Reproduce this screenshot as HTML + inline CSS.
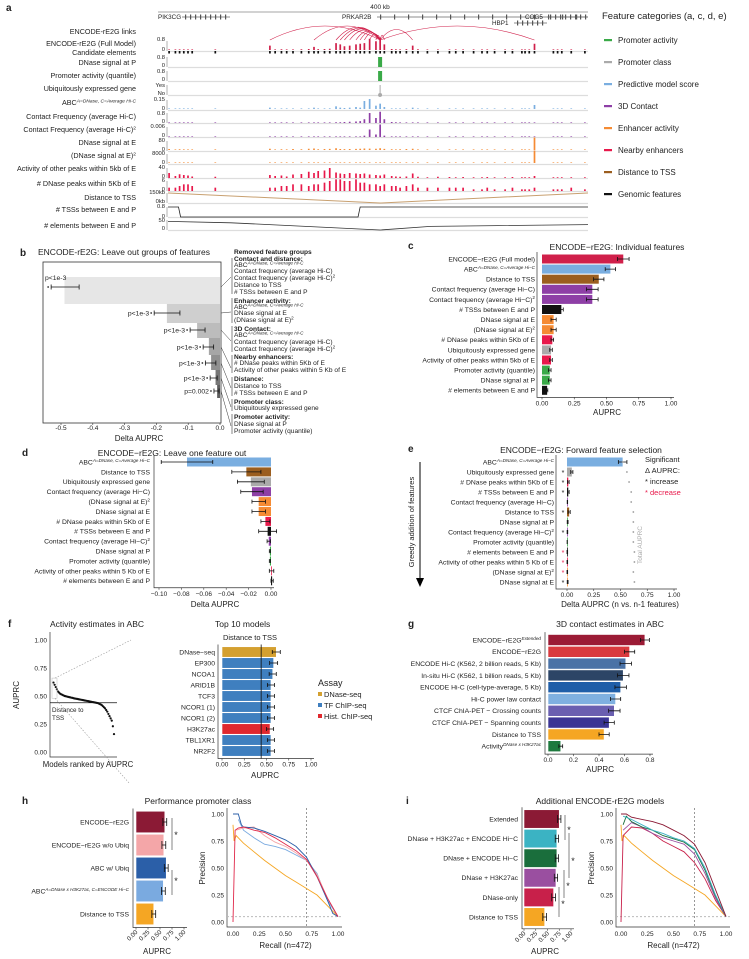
<!DOCTYPE html>
<html><head><meta charset="utf-8">
<style>
body{margin:0;background:#fff}
svg{display:block;font-family:"Liberation Sans",sans-serif}
text{fill:#222}
.pl{font-weight:bold;font-size:10px}
.ti{font-size:8.5px}
</style></head>
<body>
<svg id="fig" width="749" height="959" viewBox="0 0 749 959">
<g>
<text class="pl" x="6" y="11">a</text><text class="pl" x="20" y="256">b</text><text class="pl" x="408" y="249">c</text>
<text class="pl" x="22" y="456">d</text><text class="pl" x="408" y="452">e</text><text class="pl" x="8" y="627">f</text>
<text class="pl" x="408" y="627">g</text><text class="pl" x="22" y="804">h</text><text class="pl" x="406" y="804">i</text>
</g>
<g>
<text class="ti" x="38" y="255">ENCODE-rE2G: Leave out groups of features</text>
<text class="ti" x="617" y="250" text-anchor="middle">ENCODE−rE2G: Individual features</text>
<text class="ti" x="172" y="456" text-anchor="middle">ENCODE−rE2G: Leave one feature out</text>
<text class="ti" x="581" y="453" text-anchor="middle">ENCODE−rE2G: Forward feature selection</text>
<text class="ti" x="50" y="627">Activity estimates in ABC</text>
<text class="ti" x="215" y="627">Top 10 models</text>
<text class="ti" x="610" y="627" text-anchor="middle">3D contact estimates in ABC</text>
<text class="ti" x="198" y="804" text-anchor="middle">Performance promoter class</text>
<text class="ti" x="600" y="804" text-anchor="middle">Additional ENCODE-rE2G models</text>
</g>
<g id="legend-a">
<text x="602" y="19" font-size="9.5">Feature categories (a, c, d, e)</text>
</g>
<g font-size="6.6">
<text x="234" y="254" font-weight="bold">Removed feature groups</text>
<text x="234" y="261" font-weight="bold">Contact and distance:</text>
<text x="234" y="267">ABC<tspan font-size="4.6" font-style="italic" dy="-2.5">A=DNase, C=Average Hi-C</tspan></text>
<text x="234" y="273">Contact frequency (average Hi-C)</text>
<text x="234" y="280">Contact frequency (average Hi-C)<tspan font-size="4.6" dy="-2.5">2</tspan></text>
<text x="234" y="287">Distance to TSS</text>
<text x="234" y="294"># TSSs between E and P</text>
<text x="234" y="303" font-weight="bold">Enhancer activity:</text>
<text x="234" y="309">ABC<tspan font-size="4.6" font-style="italic" dy="-2.5">A=DNase, C=Average Hi-C</tspan></text>
<text x="234" y="315">DNase signal at E</text>
<text x="234" y="322">(DNase signal at E)<tspan font-size="4.6" dy="-2.5">2</tspan></text>
<text x="234" y="331" font-weight="bold">3D Contact:</text>
<text x="234" y="337">ABC<tspan font-size="4.6" font-style="italic" dy="-2.5">A=DNase, C=Average Hi-C</tspan></text>
<text x="234" y="344">Contact frequency (average Hi-C)</text>
<text x="234" y="351">Contact frequency (average Hi-C)<tspan font-size="4.6" dy="-2.5">2</tspan></text>
<text x="234" y="359" font-weight="bold">Nearby enhancers:</text>
<text x="234" y="365"># DNase peaks within 5Kb of E</text>
<text x="234" y="372">Activity of other peaks within 5 Kb of E</text>
<text x="234" y="381" font-weight="bold">Distance:</text>
<text x="234" y="388">Distance to TSS</text>
<text x="234" y="395"># TSSs between E and P</text>
<text x="234" y="404" font-weight="bold">Promoter class:</text>
<text x="234" y="410">Ubiquitously expressed gene</text>
<text x="234" y="419" font-weight="bold">Promoter activity:</text>
<text x="234" y="426">DNase signal at P</text>
<text x="234" y="433">Promoter activity (quantile)</text>
</g>
<g font-size="7.5">
<text x="645" y="462">Significant</text>
<text x="645" y="473">Δ AUPRC:</text>
<text x="645" y="484">* increase</text>
<text x="645" y="495" style="fill:#e8194b">* decrease</text>
<text x="642" y="545" font-size="6.5" style="fill:#aaa" transform="rotate(-90 642 545)" text-anchor="middle">Total AUPRC</text>
<text x="414" y="522" font-size="7.5" transform="rotate(-90 414 522)" text-anchor="middle">Greedy addition of features</text>
<line x1="420" y1="462" x2="420" y2="578" stroke="#000" stroke-width="1"/>
<polygon points="416,578 424,578 420,587" fill="#000"/>
</g>
<g font-size="7.5">
<text x="318" y="686" font-size="9">Assay</text>
<rect x="318" y="692" width="4" height="4" fill="#d4a030"/><text x="324" y="697">DNase-seq</text>
<rect x="318" y="703" width="4" height="4" fill="#3f7fbf"/><text x="324" y="708">TF ChIP-seq</text>
<rect x="318" y="714" width="4" height="4" fill="#e0282e"/><text x="324" y="719">Hist. ChIP-seq</text>
</g>
</svg>
<script>
const NS='http://www.w3.org/2000/svg';
const svg=document.getElementById('fig');
function mk(tag,attrs,parent){const e=document.createElementNS(NS,tag);for(const k in attrs)e.setAttribute(k,attrs[k]);(parent||svg).appendChild(e);return e;}
function txt(x,y,s,size,anchor,parent){
  const e=mk('text',{x:x,y:y,'font-size':size,'text-anchor':anchor||'start'},parent);
  const parts=s.split('^');
  const a=document.createElementNS(NS,'tspan');a.textContent=parts[0];e.appendChild(a);
  if(parts.length>1){const b=document.createElementNS(NS,'tspan');b.textContent=parts[1];b.setAttribute('font-size',size*0.68);b.setAttribute('dy',-size*0.38);if(parts[1].length>2)b.setAttribute('font-style','italic');e.appendChild(b);}
  return e;
}
const C={prom:'#3aaa48',cls:'#aaaaaa',pred:'#7aaee0',d3:'#8e3fa6',enh:'#f58b34',near:'#e8194b',dist:'#9b5e1f',gen:'#111111',full:'#d0204a'};

/* ---------- Panel a data ---------- */
const legendCats=['Promoter activity','Promoter class','Predictive model score','3D Contact','Enhancer activity','Nearby enhancers','Distance to TSS','Genomic features'];
const legendColors=[C.prom,C.cls,C.pred,C.d3,C.enh,C.near,C.dist,C.gen];
const elemKb=[1,7,11,15,19,23,45,97,102,108,113,119,127,134,139,143,149,154,160,164,168,173,179,183,187,192,198,202,206,213,217,221,227,233,238,247,257,268,274,281,291,299,304,311,321,328,337,340,344,349,367,371,375,384,397];
const tssKb=202;
const fullModel=[0.04,0.03,0.05,0.04,0.03,0.03,0.02,0.35,0.05,0.06,0.04,0.05,0.06,0.08,0.25,0.07,0.08,0.1,0.55,0.45,0.3,0.35,0.45,0.5,0.55,0.9,0.7,1.0,0.45,0.08,0.06,0.05,0.07,0.35,0.06,0.04,0.04,0.03,0.03,0.04,0.03,0.03,0.03,0.02,0.03,0.03,0.03,0.04,0.03,0.5,0.05,0.03,0.03,0.03,0.02];
const abcScore=[0.003,0.002,0.003,0.002,0.002,0.002,0.002,0.02,0.004,0.005,0.004,0.005,0.006,0.008,0.02,0.006,0.008,0.01,0.04,0.02,0.015,0.02,0.03,0.02,0.12,0.15,0.05,0.08,0.03,0.008,0.005,0.004,0.006,0.02,0.004,0.003,0.003,0.002,0.002,0.003,0.002,0.002,0.002,0.002,0.002,0.002,0.003,0.003,0.003,0.06,0.004,0.002,0.002,0.002,0.002];
const contactHiC=[0.01,0.01,0.01,0.01,0.01,0.01,0.01,0.02,0.02,0.02,0.02,0.02,0.03,0.03,0.03,0.03,0.04,0.04,0.06,0.06,0.08,0.1,0.12,0.15,0.3,0.8,0.4,0.9,0.3,0.08,0.06,0.05,0.04,0.03,0.03,0.02,0.02,0.02,0.02,0.02,0.01,0.01,0.01,0.01,0.01,0.01,0.01,0.01,0.01,0.02,0.01,0.01,0.01,0.01,0.01];
const contactHiC2=[0,0,0,0,0,0,0,0,0,0,0,0,0,0,0,0,0,0,0.0001,0.0001,0.0001,0.0002,0.0002,0.0003,0.0008,0.0045,0.0015,0.009,0.0008,0.0001,0,0,0,0,0,0,0,0,0,0,0,0,0,0,0,0,0,0,0,0,0,0,0,0,0];
const dnaseE=[8,4,6,5,4,3,5,10,4,6,5,8,6,10,12,6,8,9,14,8,7,8,9,10,12,11,10,14,9,6,5,6,8,10,5,4,4,5,3,4,3,3,4,3,3,4,5,3,4,100,5,3,3,3,3];
const dnaseE2=[60,20,35,25,16,10,25,100,16,36,25,64,36,100,140,36,64,80,200,64,50,64,80,100,140,120,100,200,80,36,25,36,64,100,25,16,16,25,10,16,10,10,16,10,10,16,25,10,16,10000,25,10,10,10,10];
const otherPeaks=[20,8,15,12,10,6,5,12,8,10,6,14,16,25,20,28,30,40,22,18,16,20,18,16,18,14,12,10,14,8,6,5,6,18,5,3,5,4,3,4,3,3,4,3,3,4,3,3,3,8,3,3,3,3,3];
const nPeaks=[2,2,3,4,4,3,2,2,2,3,3,4,4,3,4,4,5,6,7,7,6,6,7,5,5,4,4,3,4,3,3,2,3,4,2,2,2,2,2,2,1,1,2,1,1,2,1,1,1,2,1,1,1,2,1];
const tssCountKb=[0,10,12,181,183,400];
const tssCountVal=[0.8,0.8,0,0,0.8,0.8];
const elemBetweenKb=[0,60,202,250,400];
const elemBetweenVal=[48,40,0,20,30];

const xKb=kb=>168+kb*1.05;
mk('line',{x1:158,y1:12,x2:588,y2:12,stroke:'#888','stroke-width':0.8});
txt(380,9,'400 kb',6.5,'middle');
const genes=[['PIK3CG',158,19,182,230],['PRKAR2B',342,19,377,588],['COG5',525,19,547,588],['HBP1',492,25,514,547]];
genes.forEach(g=>{
  const t=txt(g[1],g[2],g[0],6.3,'start');
  
  
  const l=mk('line',{x1:g[3],y1:g[2]-2,x2:g[4],y2:g[2]-2,stroke:'#666','stroke-width':0.7});
  
  
  for(let x=g[3]+3;x<g[4]-2;x+=(g[0]==='PRKAR2B'?14:5)){const ex=mk('rect',{x:x,y:g[2]-4.5,width:1.2,height:5,fill:'#555'});}
});
const trackLabels=[['ENCODE-rE2G links',34],['ENCODE-rE2G (Full Model)',46],['Candidate elements',55],['DNase signal at P',65],['Promoter activity (quantile)',78],['Ubiquitously expressed gene',91],['ABC^A=DNase, C=Average Hi-C',105],['Contact Frequency (average Hi-C)',119],['Contact Frequency (average Hi-C)^2',132],['DNase signal at E',145],['(DNase signal at E)^2',158],['Activity of other peaks within 5kb of E',171],['# DNase peaks within 5Kb of E',186],['Distance to TSS',200],['# TSSs between E and P',212],['# elements between E and P',228]];
trackLabels.forEach(t=>{const e=txt(136,t[1],t[0],7.2,'end');});
const axTicks=[['0.8',41],['0',51],['0.8',59],['0',67],['0.8',73],['0',81],['Yes',87],['No',95],['0.15',101],['0',110],['0.8',115],['0',123],['0.006',128],['0',137],['80',142],['0',151],['8000',155],['0',164],['40',169],['0',178],['6',182],['0',191],['150kb',194],['0kb',203],['0.8',208],['0',218],['50',222],['0',230]];
axTicks.forEach(t=>{const e=txt(165,t[1],t[0],5.8,'end');});
const baselines=[51,67,81,95,110,123,137,151,164,178,191,203,217,230];
baselines.forEach(b=>{const l=mk('line',{x1:168,y1:b+0.5,x2:588,y2:b+0.5,stroke:'#ddd','stroke-width':1.2});
  const a=mk('line',{x1:167,y1:b,x2:167,y2:b-10,stroke:'#666','stroke-width':0.5});});
function track(vals,max,base,color,name){
  elemKb.forEach((kb,i)=>{const h=Math.max(0.6,Math.min(vals[i]/max,1.25)*10);
    const r=mk('rect',{x:xKb(kb)-0.8,y:base-h,width:1.7,height:h,fill:color});
    
    });
}
elemKb.forEach((kb,i)=>{ if(fullModel[i]>0.2 && kb!==tssKb){
  const x1=xKb(tssKb),x2=xKb(kb),h=Math.min(14,Math.abs(x2-x1)*0.2+4);
  const p=mk('path',{d:`M${x1} 40 Q${(x1+x2)/2} ${40-h*2} ${x2} 40`,fill:'none',stroke:C.full,'stroke-width':0.6});
  
  }});
track(fullModel,0.8,50,C.full,'full-model-bar');
elemKb.forEach(kb=>{const r=mk('rect',{x:xKb(kb)-0.8,y:51,width:1.7,height:2.5,fill:'#111'});});
{const r=mk('rect',{x:xKb(tssKb)-2,y:57,width:4,height:10,fill:C.prom});
 const r2=mk('rect',{x:xKb(tssKb)-2,y:71,width:4,height:10,fill:C.prom});
 const l=mk('line',{x1:xKb(tssKb),y1:85,x2:xKb(tssKb),y2:95,stroke:'#aaa','stroke-width':1});
 const c=mk('circle',{cx:xKb(tssKb),cy:95,r:2,fill:'#aaa'});}
track(abcScore,0.15,109,C.pred,'abc-bar');
track(contactHiC,0.8,123,C.d3,'contact-bar');
track(contactHiC2,0.006,137,C.d3,'contact2-bar');
track(dnaseE,80,150,C.enh,'dnase-e-bar');
track(dnaseE2,8000,163,C.enh,'dnase-e2-bar');
track(otherPeaks,40,178,C.near,'other-peaks-bar');
track(nPeaks,6,191,C.near,'n-peaks-bar');
{const p=mk('path',{d:`M${xKb(0)} 193 L${xKb(tssKb)} 203 L${xKb(400)} 193`,fill:'none',stroke:'#c8a070','stroke-width':1});}
{let d='';tssCountKb.forEach((kb,i)=>{d+=(i?'L':'M')+xKb(kb)+' '+(217-tssCountVal[i]/0.8*10);});
 const p=mk('path',{d:d,fill:'none',stroke:'#222','stroke-width':0.8});}
{let d='';elemBetweenKb.forEach((kb,i)=>{d+=(i?'L':'M')+xKb(kb)+' '+(230-elemBetweenVal[i]/50*9);});
 const p=mk('path',{d:d,fill:'none',stroke:'#333','stroke-width':0.8});}
const lg=document.getElementById('legend-a');
legendCats.forEach((c,i)=>{const y=40+i*22;
  const r=mk('rect',{x:604,y:y-1,width:8,height:2.2,fill:legendColors[i]},lg);
  
  
  const t=txt(618,y+3,c,8,'start',lg);
  
  });

/* ---------- Panel b ---------- */
const bVals=[-0.489,-0.167,-0.072,-0.035,-0.028,-0.014,-0.009];
const bLo=[-0.531,-0.207,-0.094,-0.053,-0.046,-0.031,-0.019];
const bHi=[-0.443,-0.126,-0.047,-0.02,-0.013,-0.009,-0.003];
const bP=['p<1e-3','p<1e-3','p<1e-3','p<1e-3','p<1e-3','p<1e-3','p=0.002'];
const bTicks=[-0.5,-0.4,-0.3,-0.2,-0.1,0.0];
const bTickLabels=['-0.5','-0.4','-0.3','-0.2','-0.1','0.0'];
const bGroupMid=[277,312,341,368,388,407,426];
{
const X=v=>220+v*318;
const tops=[277,304,323,338,355,370,385,398];
const rows=[287,313,330,347,363,378,391];
const shades=['#e6e6e6','#cfcfcf','#bcbcbc','#a6a6a6','#909090','#777','#5e5e5e'];
const box=mk('rect',{x:43,y:262,width:178,height:161,fill:'none',stroke:'#333','stroke-width':0.8});


bVals.forEach((v,i)=>{
  const r=mk('rect',{x:X(v),y:tops[i],width:X(0)-X(v),height:tops[i+1]-tops[i],fill:shades[i]});
  
  
  const cy=rows[i];
  const w=mk('path',{d:`M${X(bLo[i])} ${cy}H${X(bHi[i])}M${X(bLo[i])} ${cy-2.5}V${cy+2.5}M${X(bHi[i])} ${cy-2.5}V${cy+2.5}`,stroke:'#111','stroke-width':0.8,fill:'none'});
  
  
  const dot=mk('circle',{cx:X(bLo[i])-3,cy:cy,r:0.9,fill:'#333'});
  
  
  const t=(i===0)?txt(45,280,bP[i],6.8,'start'):txt(X(bLo[i])-5,cy+2.3,bP[i],6.8,'end');
  
  
  const cl=mk('line',{x1:221,y1:cy,x2:231,y2:bGroupMid[i],stroke:'#333','stroke-width':0.5});
  
  
});
bTicks.forEach((v,i)=>{const t=txt(X(v),430,bTickLabels[i],6.5,'middle');
  const l=mk('line',{x1:X(v),y1:423,x2:X(v),y2:425,stroke:'#333','stroke-width':0.6});});
const at=txt(139,441,'Delta AUPRC',8,'middle');
[[258,294],[298,323],[326,352],[355,373],[377,396],[399,411],[414,434]].forEach(s=>{const l=mk('line',{x1:232,y1:s[0],x2:232,y2:s[1],stroke:'#333','stroke-width':0.6});});
}

/* ---------- generic horizontal bar chart ---------- */
function hbar(o){
  const g=mk('g',{});
  
  
  const X=v=>o.x0+v*o.k, Y=i=>o.y0+i*o.step;
  o.cats.forEach((c,i)=>{
    const v=o.vals[i],x1=Math.min(X(0),X(v)),w=Math.max(0.8,Math.abs(X(v)-X(0)));
    const r=mk('rect',{x:x1,y:Y(i)-o.h/2,width:w,height:o.h,fill:o.colors[i],stroke:o.stroke||'none','stroke-width':0.6},g);
    
    
    if(o.errs){const e=o.errs[i],lo=X(v-e),hi=X(v+e),y=Y(i),cap=o.cap||2;
      const p=mk('path',{d:`M${lo} ${y}H${hi}M${lo} ${y-cap}V${y+cap}M${hi} ${y-cap}V${y+cap}`,stroke:'#111','stroke-width':0.8,fill:'none'},g);
      
      }
    const t=txt(o.labelX,Y(i)+o.fs*0.35,c,o.fs,'end',g);
    
    
  });
  const top=o.y0-o.step/2-2, bot=o.y0+(o.cats.length-0.5)*o.step+2;
  const ax=mk('path',{d:`M${o.axX} ${top}V${bot}H${X(o.ticks[o.ticks.length-1])+3}`,stroke:'#333','stroke-width':0.7,fill:'none'},g);
  
  
  o.ticks.forEach((v,i)=>{
    const l=mk('line',{x1:X(v),y1:bot,x2:X(v),y2:bot+2,stroke:'#333','stroke-width':0.6},g);
    
    
    let t;
    if(o.rot){t=txt(X(v)+2,bot+5,o.tickLabels[i],6.3,'end',g);t.setAttribute('transform',`rotate(-45 ${X(v)+2} ${bot+5})`);}
    else t=txt(X(v),bot+8,o.tickLabels[i],6.5,'middle',g);
    
    
  });
  const tt=txt(o.titleX,o.titleY,o.title,8,'middle',g);
  
  
  return {X:X,Y:Y,top:top,bot:bot};
}

/* ---------- Panel c ---------- */
const cCats=['ENCODE−rE2G (Full model)','ABC^A=DNase, C=Average Hi−C','Distance to TSS','Contact frequency (average Hi−C)','Contact frequency (average Hi−C)^2','# TSSs between E and P','DNase signal at E','(DNase signal at E)^2','# DNase peaks within 5Kb of E','Ubiquitously expressed gene','Activity of other peaks within 5kb of E','Promoter activity (quantile)','DNase signal at P','# elements between E and P'];
const cVals=[0.63,0.53,0.44,0.39,0.39,0.15,0.09,0.09,0.08,0.07,0.07,0.06,0.06,0.04];
const cErrs=[0.045,0.04,0.04,0.045,0.045,0.015,0.02,0.02,0.01,0.01,0.01,0.01,0.01,0.005];
const cTicks=[0,0.25,0.5,0.75,1];
const cTickLabels=['0.00','0.25','0.50','0.75','1.00'];
hbar({name:'individual-features',cats:cCats,vals:cVals,errs:cErrs,colors:[C.full,C.pred,C.dist,C.d3,C.d3,C.gen,C.enh,C.enh,C.near,C.cls,C.near,C.prom,C.prom,C.gen],
 x0:542,k:129,y0:259,step:10.1,h:9,labelX:535,axX:537,fs:6.8,ticks:cTicks,tickLabels:cTickLabels,title:'AUPRC',titleX:607,titleY:415});

/* ---------- Panel d ---------- */
const dCats=['ABC^A=DNase, C=Average Hi−C','Distance to TSS','Ubiquitously expressed gene','Contact frequency (average Hi−C)','(DNase signal at E)^2','DNase signal at E','# DNase peaks within 5Kb of E','# TSSs between E and P','Contact frequency (average Hi−C)^2','DNase signal at P','Promoter activity (quantile)','Activity of other peaks within 5 Kb of E','# elements between E and P'];
const dVals=[-0.075,-0.022,-0.018,-0.017,-0.011,-0.011,-0.005,-0.003,-0.002,-0.001,-0.001,0.0005,0.001];
const dErrs=[0.023,0.013,0.012,0.01,0.006,0.006,0.004,0.008,0.0015,0.0005,0.0005,0.002,0.001];
const dTicks=[-0.1,-0.08,-0.06,-0.04,-0.02,0];
const dTickLabels=['−0.10','−0.08','−0.06','−0.04','−0.02','0.00'];
hbar({name:'leave-one-out',cats:dCats,vals:dVals,errs:dErrs,colors:[C.pred,C.dist,C.cls,C.d3,C.enh,C.enh,C.near,C.gen,C.d3,C.prom,C.prom,C.near,C.gen],
 x0:271,k:1120,y0:462,step:9.9,h:9,labelX:150,axX:154,fs:6.8,ticks:dTicks,tickLabels:dTickLabels,title:'Delta AUPRC',titleX:215,titleY:607});

/* ---------- Panel e ---------- */
const eCats=['ABC^A=DNase, C=Average Hi−C','Ubiquitously expressed gene','# DNase peaks within 5Kb of E','# TSSs between E and P','Contact frequency (average Hi−C)','Distance to TSS','DNase signal at P','Contact frequency (average Hi−C)^2','Promoter activity (quantile)','# elements between E and P','Activity of other peaks within 5 Kb of E','(DNase signal at E)^2','DNase signal at E'];
const eVals=[0.52,0.045,0.012,0.012,0.004,0.02,0.006,0.004,0.002,0.003,0.003,0.003,0.006];
const eErrs=[0.04,0.01,0.008,0.008,0.002,0.01,0.004,0.003,0.001,0.003,0.003,0.003,0.004];
const eTotal=[0.52,0.56,0.58,0.6,0.6,0.62,0.62,0.62,0.62,0.63,0.63,0.62,0.63];
const eSig=[0,1,1,1,0,1,0,1,0,-1,-1,-1,1];
const eTicks=[0,0.25,0.5,0.75,1];
const eTickLabels=['0.00','0.25','0.50','0.75','1.00'];
{const ch=hbar({name:'forward-selection',cats:eCats,vals:eVals,errs:eErrs,colors:[C.pred,C.cls,C.near,C.gen,C.d3,C.dist,C.prom,C.d3,C.prom,C.gen,C.near,C.enh,C.enh],
 x0:567,k:107,y0:462,step:10,h:9,labelX:554,axX:556,fs:6.8,ticks:eTicks,tickLabels:eTickLabels,title:'Delta AUPRC (n vs. n-1 features)',titleX:620,titleY:607});
 eTotal.forEach((v,i)=>{const c=mk('circle',{cx:ch.X(v),cy:ch.Y(i),r:0.9,fill:'#999'});
   if(eSig[i]!==0){const t=txt(563,ch.Y(i)+3,'*',7,'middle');t.setAttribute('style','fill:'+(eSig[i]>0?'#111':'#e8194b'));}});}

/* ---------- Panel f scatter ---------- */
const fRanked=[0.62,0.6,0.58,0.56,0.54,0.53,0.52,0.515,0.51,0.505,0.5,0.498,0.495,0.492,0.49,0.488,0.485,0.483,0.48,0.478,0.476,0.474,0.472,0.47,0.468,0.466,0.464,0.462,0.46,0.458,0.456,0.454,0.452,0.45,0.448,0.446,0.444,0.442,0.44,0.438,0.435,0.43,0.425,0.42,0.41,0.4,0.39,0.375,0.36,0.34,0.32,0.3,0.28,0.23,0.16];
const fBaseline=0.44;
const fYTicks=[0,0.25,0.5,0.75,1];
const fYTickLabels=['0.00','0.25','0.50','0.75','1.00'];
{const Y=v=>752-v*112, X=i=>53.5+i*(60.5/(fRanked.length-1));
 const ax=mk('path',{d:'M50 632V757H117',stroke:'#333','stroke-width':0.7,fill:'none'});
 fYTicks.forEach((v,i)=>{const t=txt(47,Y(v)+2.3,fYTickLabels[i],6.5,'end');});
 const hl=mk('line',{x1:50,y1:Y(fBaseline),x2:117,y2:Y(fBaseline),stroke:'#111','stroke-width':0.7});
 fRanked.forEach((v,i)=>{const c=mk('circle',{cx:X(i),cy:Y(v),r:1.1,fill:'#111'});});
 const d1=mk('path',{d:`M55 ${Y(0.66)}L131 640M55 ${Y(0.48)}L129 783`,stroke:'#999','stroke-width':0.6,'stroke-dasharray':'1.5 1.5',fill:'none'});
 const bx=mk('rect',{x:52,y:Y(0.66),width:5,height:Y(0.48)-Y(0.66),fill:'none',stroke:'#bbb','stroke-width':0.5});
 const a=txt(19,695,'AUPRC',8,'middle');a.setAttribute('transform','rotate(-90 19 695)');
 const l1=txt(52,712,'Distance to',6.3,'start');
 const l2=txt(52,720,'TSS',6.3,'start');
 const xt=txt(88,767,'Models ranked by AUPRC',7.8,'middle');}

/* ---------- Panel f top10 ---------- */
const fCats=['DNase−seq','EP300','NCOA1','ARID1B','TCF3','NCOR1 (1)','NCOR1 (2)','H3K27ac','TBL1XR1','NR2F2'];
const fVals=[0.61,0.58,0.57,0.55,0.55,0.55,0.55,0.54,0.55,0.55];
const fErrs=[0.045,0.045,0.04,0.04,0.04,0.04,0.04,0.04,0.04,0.04];
const fAssay=['DNase-seq','TF','TF','TF','TF','TF','TF','Hist','TF','TF'];
const fTicks=[0,0.25,0.5,0.75,1];
const fTickLabels=['0.00','0.25','0.50','0.75','1.00'];
{const amap={'DNase-seq':'#d4a030','TF':'#3f7fbf','Hist':'#e0282e'};
 const ch=hbar({name:'top10-models',cats:fCats,vals:fVals,errs:fErrs,colors:fAssay.map(a=>amap[a]),stroke:'#fff',
 x0:222,k:89,y0:652,step:11,h:10.5,labelX:215,axX:218,fs:6.8,ticks:fTicks,tickLabels:fTickLabels,title:'AUPRC',titleX:265,titleY:778});
 const vl=mk('line',{x1:ch.X(fBaseline),y1:ch.top,x2:ch.X(fBaseline),y2:ch.bot,stroke:'#111','stroke-width':0.8});
 const st=txt(250,640,'Distance to TSS',7.5,'middle');}

/* ---------- Panel g ---------- */
const gCats=['ENCODE−rE2G^Extended','ENCODE−rE2G','ENCODE Hi-C (K562, 2 billion reads, 5 Kb)','In-situ Hi-C (K562, 1 billion reads, 5 Kb)','ENCODE Hi-C (cell-type-average, 5 Kb)','Hi-C power law contact','CTCF ChIA-PET − Crossing counts','CTCF ChIA-PET − Spanning counts','Distance to TSS','Activity^DNase x H3K27ac'];
const gVals=[0.76,0.64,0.61,0.59,0.57,0.53,0.52,0.48,0.44,0.1];
const gErrs=[0.035,0.04,0.045,0.045,0.045,0.04,0.045,0.04,0.04,0.015];
const gTicks=[0,0.2,0.4,0.6,0.8];
const gTickLabels=['0.0','0.2','0.4','0.6','0.8'];
hbar({name:'contact-estimates',cats:gCats,vals:gVals,errs:gErrs,colors:['#9b1b35','#d93a3e','#4a72a6','#2c4566','#1f5ea8','#7fb0e0','#6a5fb0','#3b3594','#f5a623','#1e7a3e'],stroke:'#fff',
 x0:548,k:127.5,y0:640,step:11.8,h:11,labelX:541,axX:545,fs:6.8,ticks:gTicks,tickLabels:gTickLabels,title:'AUPRC',titleX:600,titleY:772});

/* ---------- Panel h ---------- */
const hCats=['ENCODE−rE2G','ENCODE−rE2G w/o Ubiq','ABC w/ Ubiq','ABC^A=DNase x H3K27ac, C=ENCODE Hi−C','Distance to TSS'];
const hVals=[0.6,0.58,0.63,0.57,0.37];
const hErrs=[0.04,0.04,0.04,0.04,0.04];
const hTicks=[0,0.25,0.5,0.75,1];
const hTickLabels=['0.00','0.25','0.50','0.75','1.00'];
hbar({name:'promoter-class',cats:hCats,vals:hVals,errs:hErrs,colors:['#8b1a35','#f4a6a8','#2b5fa8','#7aaae0','#f5a623'],stroke:'#fff',cap:4,
 x0:136,k:48,y0:822,step:23,h:21.5,labelX:129,axX:133,fs:6.8,ticks:hTicks,tickLabels:hTickLabels,rot:true,title:'AUPRC',titleX:157,titleY:954});
[[172,818,850,834],[172,870,895,880]].forEach(b=>{const l=mk('line',{x1:b[0],y1:b[1],x2:b[0],y2:b[2],stroke:'#333','stroke-width':0.6});
 const s=txt(b[0]+4,b[3]+4,'*',9,'middle');});

/* ---------- Panel i ---------- */
const iCats=['Extended','DNase + H3K27ac + ENCODE Hi−C','DNase + ENCODE Hi−C','DNase + H3K27ac','DNase-only','Distance to TSS'];
const iVals=[0.75,0.7,0.7,0.68,0.63,0.44];
const iErrs=[0.035,0.035,0.035,0.035,0.04,0.04];
const iTicks=[0,0.25,0.5,0.75,1];
const iTickLabels=['0.00','0.25','0.50','0.75','1.00'];
hbar({name:'additional-models',cats:iCats,vals:iVals,errs:iErrs,colors:['#8b1a35','#3bb3c3','#1a6e3c','#9a4fa0','#c8204a','#f5a623'],stroke:'#fff',cap:4,
 x0:524,k:47,y0:819,step:19.6,h:18.5,labelX:518,axX:522,fs:6.8,ticks:iTicks,tickLabels:iTickLabels,rot:true,title:'AUPRC',titleX:545,titleY:954});
[[565,815,840,829],[569,833,878,860],[564,870,898,885],[559,887,917,903]].forEach(b=>{const l=mk('line',{x1:b[0],y1:b[1],x2:b[0],y2:b[2],stroke:'#333','stroke-width':0.6});
 const s=txt(b[0]+4,b[3]+4,'*',9,'middle');});

/* ---------- PR curves ---------- */
const prOrange=[[0,0.9],[0.01,0.75],[0.03,0.8],[0.05,0.78],[0.1,0.73],[0.2,0.65],[0.3,0.57],[0.4,0.5],[0.5,0.43],[0.6,0.37],[0.7,0.31],[0.8,0.25],[0.9,0.15],[1,0.05]];
const prHBlue=[[0,1],[0.05,1],[0.08,0.9],[0.1,0.88],[0.2,0.87],[0.3,0.84],[0.4,0.8],[0.5,0.76],[0.6,0.7],[0.7,0.6],[0.8,0.42],[0.9,0.2],[0.95,0.08],[1,0.05]];
const prHRed=[[0,0],[0.02,0.85],[0.05,0.87],[0.1,0.88],[0.2,0.85],[0.3,0.83],[0.4,0.78],[0.5,0.72],[0.6,0.66],[0.7,0.58],[0.8,0.42],[0.9,0.22],[1,0.05]];
const prHPink=[[0.03,0.85],[0.1,0.87],[0.2,0.88],[0.3,0.8],[0.4,0.74],[0.5,0.7],[0.6,0.64],[0.7,0.57],[0.8,0.44],[0.9,0.22],[1,0.05]];
const prHLight=[[0.05,0.95],[0.1,0.85],[0.2,0.78],[0.3,0.72],[0.4,0.7],[0.5,0.67],[0.6,0.62],[0.7,0.57],[0.8,0.45],[0.9,0.2],[1,0.05]];
const prIExt=[[0,1],[0.05,1],[0.1,0.97],[0.2,0.95],[0.3,0.93],[0.4,0.9],[0.5,0.85],[0.6,0.8],[0.7,0.72],[0.8,0.55],[0.9,0.3],[1,0.05]];
const prITeal=[[0.02,0.98],[0.1,0.95],[0.2,0.9],[0.3,0.85],[0.4,0.82],[0.5,0.78],[0.6,0.75],[0.7,0.68],[0.8,0.5],[0.9,0.25],[1,0.05]];
const prIGreen=[[0.02,0.9],[0.05,0.98],[0.1,0.93],[0.2,0.88],[0.3,0.85],[0.4,0.8],[0.5,0.77],[0.6,0.74],[0.7,0.67],[0.8,0.48],[0.9,0.24],[1,0.05]];
const prIPurple=[[0.02,0.85],[0.1,0.92],[0.2,0.88],[0.3,0.82],[0.4,0.78],[0.5,0.75],[0.6,0.72],[0.7,0.63],[0.8,0.45],[0.9,0.22],[1,0.05]];
const prICrimson=[[0,0],[0.02,0.8],[0.1,0.88],[0.2,0.87],[0.3,0.82],[0.4,0.75],[0.5,0.7],[0.6,0.65],[0.7,0.55],[0.8,0.4],[0.9,0.2],[1,0.05]];
const prTicks=[0,0.25,0.5,0.75,1];
const prTickLabels=['0.00','0.25','0.50','0.75','1.00'];
const prRecallCut=0.7, prBase=0.05;
function prPanel(o){
  const X=v=>o.x0+v*105, Y=v=>922-v*108;
  const ax=mk('path',{d:`M${o.axX} 808V927H${X(1)+4}`,stroke:'#333','stroke-width':0.7,fill:'none'});
  
  
  prTicks.forEach((v,i)=>{
    const a=txt(X(v),936,prTickLabels[i],6.5,'middle');
    
    
    const b=txt(o.axX-3,Y(v)+2.3,prTickLabels[i],6.5,'end');
    
    });
  const dv=mk('line',{x1:X(prRecallCut),y1:808,x2:X(prRecallCut),y2:927,stroke:'#555','stroke-width':0.6,'stroke-dasharray':'2 2'});
  
  
  const dh=mk('line',{x1:o.axX,y1:Y(prBase),x2:X(1)+4,y2:Y(prBase),stroke:'#bbb','stroke-width':1,'stroke-dasharray':'2 2'});
  
  
  o.curves.forEach((c,j)=>{
    const p=mk('path',{d:c.map((pt,i)=>(i?'L':'M')+X(pt[0]).toFixed(1)+' '+Y(pt[1]).toFixed(1)).join(''),fill:'none',stroke:o.colors[j],'stroke-width':0.9});
    
    });
  const xt=txt(X(0.5),948,'Recall (n=472)',8,'middle');
  
  
  const yt=txt(o.axX-22,868,'Precision',8,'middle');
  yt.setAttribute('transform',`rotate(-90 ${o.axX-22} 868)`);
  
  
}
prPanel({name:'pr-promoter-class',x0:233,axX:227,curves:[prOrange,prHLight,prHPink,prHBlue,prHRed],colors:['#f5a623','#7aaae0','#f4a6a8','#2b5fa8','#e0284a']});
prPanel({name:'pr-additional-models',x0:621,axX:616,curves:[prOrange,prICrimson,prIPurple,prIGreen,prITeal,prIExt],colors:['#f5a623','#c8204a','#9a4fa0','#1a6e3c','#3bb3c3','#8b1a35']});
</script>
</body></html>
